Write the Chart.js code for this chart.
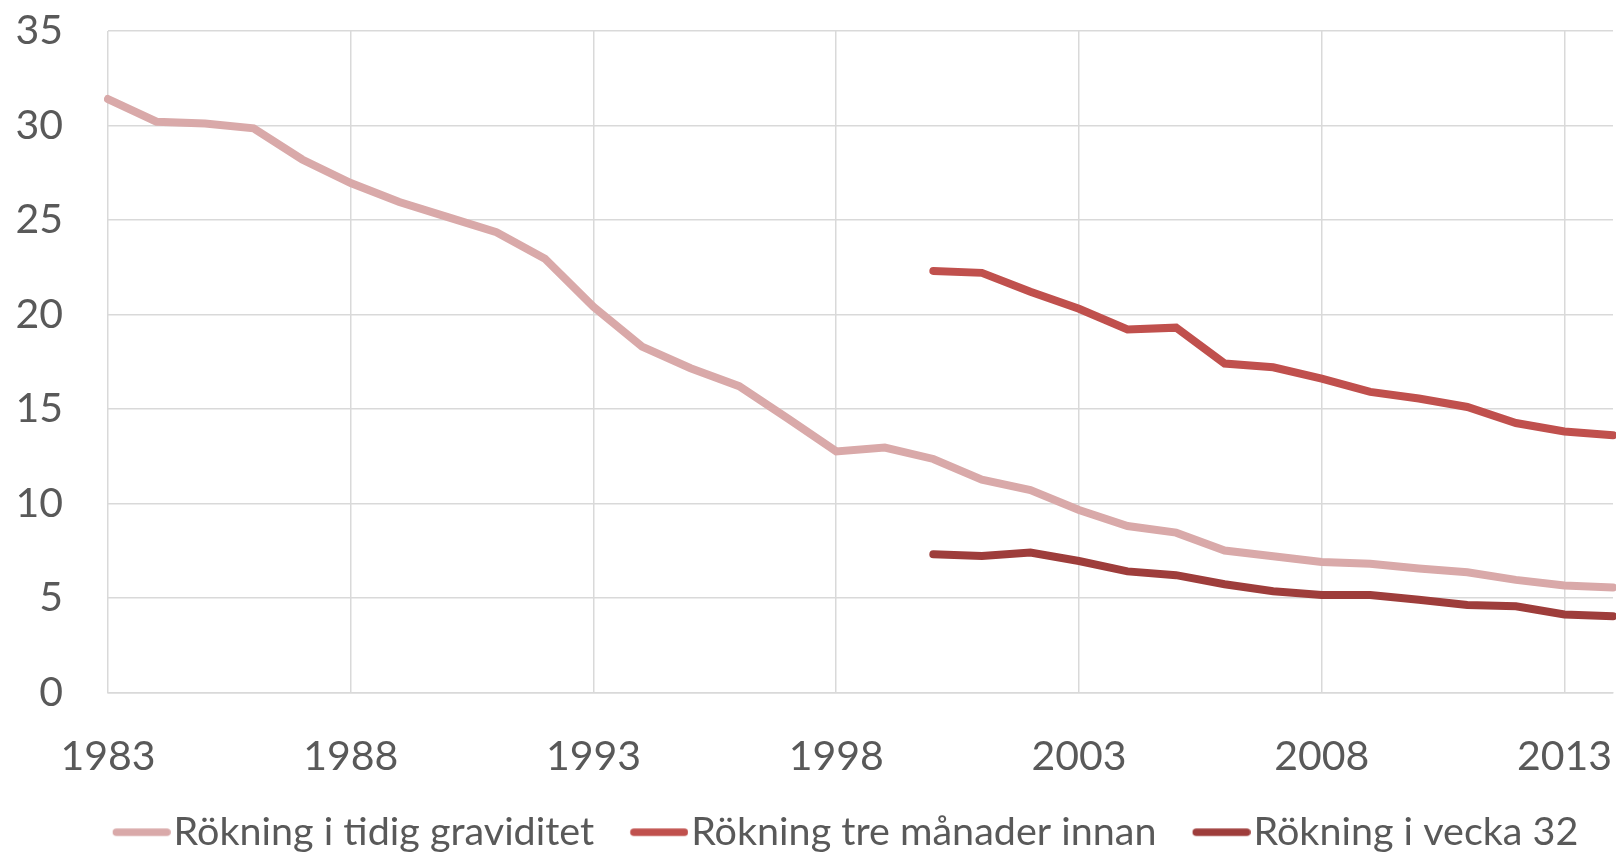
<!DOCTYPE html>
<html>
<head>
<meta charset="utf-8">
<script src="https://cdn.jsdelivr.net/npm/chart.js@4.4.1/dist/chart.umd.min.js"></script>
<style>
  html, body { margin: 0; padding: 0; background: #ffffff; }
  #wrap { width: 1616px; height: 852px; position: relative; }
</style>
</head>
<body>
<div id="wrap"><canvas id="c" width="1616" height="852"></canvas></div>
<script>
const years = ["1983","1984","1985","1986","1987","1988","1989","1990","1991","1992","1993","1994","1995","1996","1997","1998","1999","2000","2001","2002","2003","2004","2005","2006","2007","2008","2009","2010","2011","2012","2013","2014"];
const tidigGraviditet = [31.4,30.2,30.1,29.85,28.2,26.95,25.95,25.15,24.35,22.95,20.4,18.3,17.15,16.2,14.5,12.75,12.95,12.35,11.25,10.7,9.65,8.8,8.45,7.5,7.2,6.9,6.8,6.55,6.35,5.95,5.65,5.55];
const treManaderInnan = [null,null,null,null,null,null,null,null,null,null,null,null,null,null,null,null,null,22.3,22.2,21.2,20.3,19.2,19.3,17.4,17.2,16.6,15.9,15.55,15.1,14.25,13.8,13.6];
const vecka32 = [null,null,null,null,null,null,null,null,null,null,null,null,null,null,null,null,null,7.3,7.22,7.4,6.95,6.4,6.2,5.72,5.35,5.15,5.15,4.9,4.62,4.55,4.12,4.03];
const seriesNames = ["Rökning i tidig graviditet","Rökning tre månader innan","Rökning i vecka 32"];
const yTickStep = 5;
const yMin = 0, yMax = 35;

const colors = ["#D9A9A9", "#C0504D", "#9E3D3B"];
const LEG_FONT = 39.5;
const LINE_LEN = 58;
const GAP = 36;
const BOX_W = GAP + LINE_LEN + 3 - LEG_FONT / 2;

function legendLine(color) {
  const half = (GAP + LINE_LEN) - BOX_W / 2;
  const c = document.createElement('canvas');
  c.width = Math.round(half * 2);
  c.height = 12;
  const g = c.getContext('2d');
  g.strokeStyle = color;
  g.lineWidth = 7.5;
  g.lineCap = 'round';
  const x0 = c.width / 2 - BOX_W / 2 + GAP;
  g.beginPath();
  g.moveTo(x0 + 3.75, 6);
  g.lineTo(x0 + LINE_LEN - 3.75, 6);
  g.stroke();
  return c;
}

const datasets = [tidigGraviditet, treManaderInnan, vecka32].map((d, i) => ({
  label: seriesNames[i],
  data: d,
  borderColor: colors[i],
  backgroundColor: colors[i],
  borderWidth: 8,
  borderCapStyle: 'round',
  borderJoinStyle: 'miter',
  pointRadius: 0,
  pointHoverRadius: 0,
  pointStyle: legendLine(colors[i]),
  tension: 0,
  spanGaps: false,
  fill: false
}));

const legendShift = {
  id: 'legendShift',
  afterLayout(chart) {
    if (chart.legend) {
      chart.legend.left += 42;
      chart.legend.top += 10;
      chart.legend.bottom += 10;
    }
  }
};

new Chart(document.getElementById('c'), {
  type: 'line',
  data: { labels: years, datasets: datasets },
  plugins: [legendShift],
  options: {
    responsive: false,
    animation: false,
    devicePixelRatio: 1,
    layout: { padding: { left: 0, right: 3, top: 31, bottom: 0 } },
    plugins: {
      tooltip: { enabled: false },
      legend: {
        position: 'bottom',
        align: 'center',
        labels: {
          usePointStyle: true,
          pointStyleWidth: BOX_W,
          boxHeight: 12,
          padding: 0,
          color: '#595959',
          font: { family: 'Lato', size: LEG_FONT }
        }
      }
    },
    scales: {
      x: {
        type: 'category',
        offset: false,
        border: { display: true, color: '#D9D9D9', width: 1.5 },
        grid: {
          drawTicks: false,
          lineWidth: 1.5,
          color: (ctx) => (ctx.index % 5 === 0 && ctx.index < years.length - 1) ? '#D9D9D9' : 'rgba(0,0,0,0)'
        },
        ticks: {
          autoSkip: false,
          maxRotation: 0,
          padding: 40,
          color: '#595959',
          font: { family: 'Lato', size: 41 },
          callback: function(value, index) { return index % 5 === 0 ? years[index] : ''; }
        },
        afterFit: (scale) => {
          const lh = scale.chart.legend ? scale.chart.legend.height : 50;
          scale.height = Math.max(10, 852 - lh - 692.3);
          scale.paddingRight = 0;
          scale.paddingLeft = 0;
        }
      },
      y: {
        min: yMin,
        max: yMax,
        border: { display: false },
        grid: { drawTicks: false, lineWidth: 1.5, color: '#D9D9D9' },
        ticks: {
          stepSize: yTickStep,
          padding: 45,
          color: '#595959',
          font: { family: 'Lato', size: 41 }
        },
        afterFit: (scale) => {
          scale.width = 108;
          scale.paddingTop = 0;
          scale.paddingBottom = 0;
        }
      }
    }
  }
});
</script>
</body>
</html>
